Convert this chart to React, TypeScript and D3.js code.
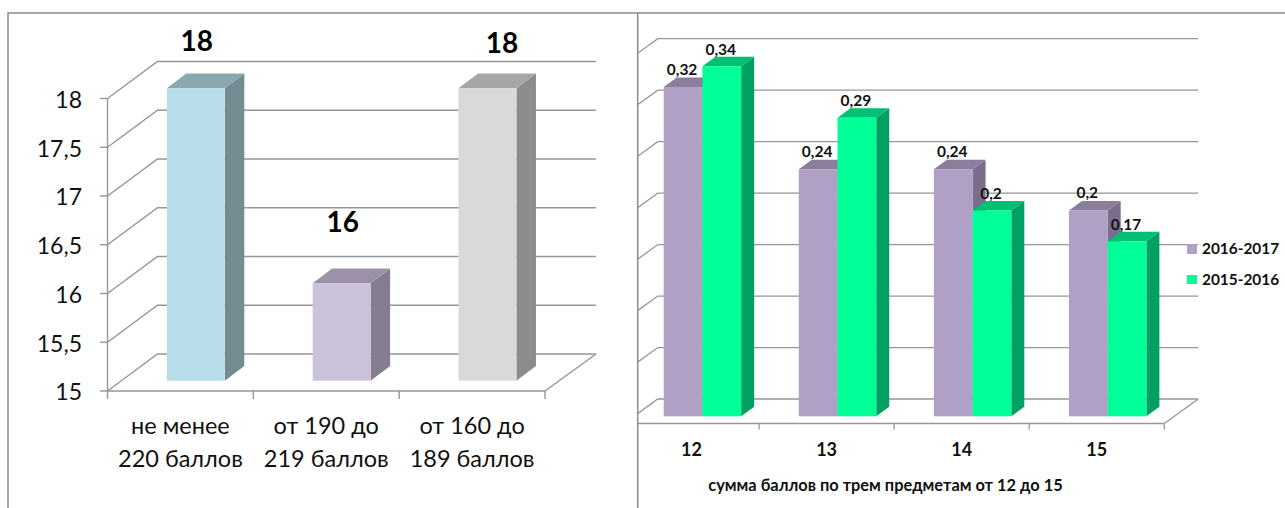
import React from 'react';
import * as d3 from 'd3';

const leftCategories = [['не менее', '220 баллов'], ['от 190 до', '219 баллов'], ['от 160 до', '189 баллов']];
const leftValues = [18, 16, 18];
const leftTicks = ['15', '15,5', '16', '16,5', '17', '17,5', '18'];
const leftTickValues = [15, 15.5, 16, 16.5, 17, 17.5, 18];
const leftColors = [
  { front: '#b7dee8', side: '#748b92', top: '#8aa6ae' },
  { front: '#ccc1da', side: '#857e90', top: '#9c91a8' },
  { front: '#d9d9d9', side: '#8c8c8c', top: '#a6a6a6' },
];

const rightCategories = ['12', '13', '14', '15'];
const series2016 = [0.32, 0.24, 0.24, 0.2];
const series2015 = [0.34, 0.29, 0.2, 0.17];
const rightLabels2016 = ['0,32', '0,24', '0,24', '0,2'];
const rightLabels2015 = ['0,34', '0,29', '0,2', '0,17'];
const rightGrid = [0, 0.05, 0.1, 0.15, 0.2, 0.25, 0.3, 0.35];
const seriesNames = ['2016-2017', '2015-2016'];
const purple = { front: '#b0a0c6', side: '#7b6e8d', top: '#8b7d9c' };
const green = { front: '#00ff96', side: '#00a062', top: '#00c074' };

const axisTitle = 'сумма баллов по трем предметам от 12 до 15';

const FONT = 'Lato, "Noto Sans", sans-serif';
const LINE = '#969696';
const BORDER = '#8c8c8c';
const INK = '#111';

function Bar3D({ x, w, top, bottom, dx, dy, c }: any) {
  return (
    <g>
      <polygon points={`${x + w},${top} ${x + w + dx},${top + dy} ${x + w + dx},${bottom + dy} ${x + w},${bottom}`} fill={c.side} />
      <polygon points={`${x},${top} ${x + dx},${top + dy} ${x + w + dx},${top + dy} ${x + w},${top}`} fill={c.top} />
      <rect x={x} y={top} width={w} height={bottom - top} fill={c.front} />
    </g>
  );
}

function LeftChart() {
  const x = d3.scaleBand<number>().domain(d3.range(leftValues.length)).range([107.5, 545]).paddingInner(88 / 146).paddingOuter(44 / 146);
  const y = d3.scaleLinear().domain([15, 18]).range([391, 98.5]);
  const step = x.step();
  const wallDx = 50, wallDy = -37;
  const barOffX = 15.4, barOffY = -10.3;
  const barDx = 19.5, barDy = -14.7;
  const labelBaseline = [50.5, 232, 52.7];
  const labelShift = [1, 1, 14.4];
  const edges = d3.range(leftValues.length + 1).map(i => 107.5 + i * step);
  return (
    <g>
      {leftTickValues.map((t, i) => (
        <g key={t}>
          <path d={`M${107.5},${y(t)} L${107.5 + wallDx},${y(t) + wallDy} H596`} fill="none" stroke={LINE} strokeWidth={1.4} />
          <line x1={100} x2={107.5} y1={y(t)} y2={y(t)} stroke={LINE} strokeWidth={1.4} />
          <text x={82} y={y(t) + 9.3} textAnchor="end" fontSize={23} fill={INK} fontFamily={FONT}>{leftTicks[i]}</text>
        </g>
      ))}
      <line x1={107.5} x2={107.5} y1={y(18)} y2={391} stroke={LINE} strokeWidth={1.4} />
      <line x1={107.5} x2={545} y1={391} y2={391} stroke={LINE} strokeWidth={1.4} />
      <line x1={545} x2={596} y1={391} y2={354} stroke={LINE} strokeWidth={1.4} />
      {edges.map(e => <line key={e} x1={e} x2={e} y1={391} y2={399} stroke={LINE} strokeWidth={1.4} />)}
      {leftValues.map((v, i) => {
        const bx = x(i)! + barOffX;
        return (
          <g key={i}>
            <Bar3D x={bx} w={x.bandwidth()} top={y(v) + barOffY} bottom={y(15) + barOffY} dx={barDx} dy={barDy} c={leftColors[i]} />
            <text x={bx + x.bandwidth() / 2 + labelShift[i]} y={labelBaseline[i]} textAnchor="middle" fontSize={28} fontWeight={700} fill="#000" fontFamily={FONT}>{v}</text>
            <text x={x(i)! + x.bandwidth() / 2} y={433.5} textAnchor="middle" fontSize={23.5} fill={INK} fontFamily={FONT}>{leftCategories[i][0]}</text>
            <text x={x(i)! + x.bandwidth() / 2} y={466.5} textAnchor="middle" fontSize={23.5} fill={INK} fontFamily={FONT}>{leftCategories[i][1]}</text>
          </g>
        );
      })}
    </g>
  );
}

function RightChart() {
  const x = d3.scaleBand().domain(rightCategories).range([624, 1164.3]).paddingInner(57.6 / 135).paddingOuter(28.8 / 135);
  const y = d3.scaleLinear().domain([0, 0.35]).range([423.5, 63.2]);
  const inner = d3.scaleBand<number>().domain([0, 1]).range([0, x.bandwidth()]);
  const step = x.step();
  const wallDx = 33.8, wallDy = -24.5;
  const barOffX = 10.9, barOffY = -7.2;
  const barDx = 13, barDy = -9.5;
  const ticks = d3.range(1, rightCategories.length + 1).map(i => 624 + i * step);
  return (
    <g>
      <defs>
        <clipPath id="rclip"><rect x={638} y={0} width={647} height={508} /></clipPath>
      </defs>
      <g clipPath="url(#rclip)">
        {rightGrid.map(t => (
          <path key={t} d={`M624,${y(t)} L${624 + wallDx},${y(t) + wallDy} H1198.2`} fill="none" stroke={LINE} strokeWidth={1.3} />
        ))}
        <line x1={624} x2={1164.3} y1={423.5} y2={423.5} stroke={LINE} strokeWidth={1.3} />
        <line x1={1164.3} x2={1198.2} y1={423.5} y2={399} stroke={LINE} strokeWidth={1.3} />
        {ticks.map(t => <line key={t} x1={t} x2={t} y1={423.5} y2={429.5} stroke={LINE} strokeWidth={1.3} />)}
      </g>
      {rightCategories.map((c, i) => {
        const gx = x(c)! + barOffX;
        const w = inner.bandwidth();
        const bottom = y(0) + barOffY;
        const t16 = y(series2016[i]) + barOffY;
        const t15 = y(series2015[i]) + barOffY;
        return (
          <g key={c}>
            <Bar3D x={gx + inner(0)!} w={w} top={t16} bottom={bottom} dx={barDx} dy={barDy} c={purple} />
            <Bar3D x={gx + inner(1)!} w={w} top={t15} bottom={bottom} dx={barDx} dy={barDy} c={green} />
            <text x={gx + inner(0)! + w / 2 - 1} y={t16 - 12} textAnchor="middle" fontSize={15.5} fontWeight={700} fill={INK} fontFamily={FONT}>{rightLabels2016[i]}</text>
            <text x={gx + inner(1)! + w / 2 - 1} y={t15 - 11.5} textAnchor="middle" fontSize={15.5} fontWeight={700} fill={INK} fontFamily={FONT}>{rightLabels2015[i]}</text>
            <text x={x(c)! + x.bandwidth() / 2} y={455.5} textAnchor="middle" fontSize={18} fontWeight={700} fill={INK} fontFamily={FONT}>{c}</text>
          </g>
        );
      })}
      <text x={885.5} y={491} textAnchor="middle" fontSize={16.4} fontWeight={700} fill={INK} fontFamily={FONT}>{axisTitle}</text>
      {seriesNames.map((n, i) => (
        <g key={n}>
          <rect x={1187} y={244 + i * 31} width={10} height={i === 0 ? 10 : 9} fill={i === 0 ? purple.front : green.front} />
          <text x={1202} y={254 + i * 31} fontSize={15.4} fontWeight={700} fill={INK} fontFamily={FONT}>{n}</text>
        </g>
      ))}
    </g>
  );
}

export default function App() {
  return (
    <svg width={1285} height={508} viewBox="0 0 1285 508" style={{ position: 'absolute', left: 0, top: 0, background: '#fff' }}>
      <path d="M8,508 V13 H1285" fill="none" stroke={BORDER} strokeWidth={1.5} />
      <line x1={637.7} x2={637.7} y1={13} y2={508} stroke={BORDER} strokeWidth={1.5} />
      <LeftChart />
      <RightChart />
    </svg>
  );
}
